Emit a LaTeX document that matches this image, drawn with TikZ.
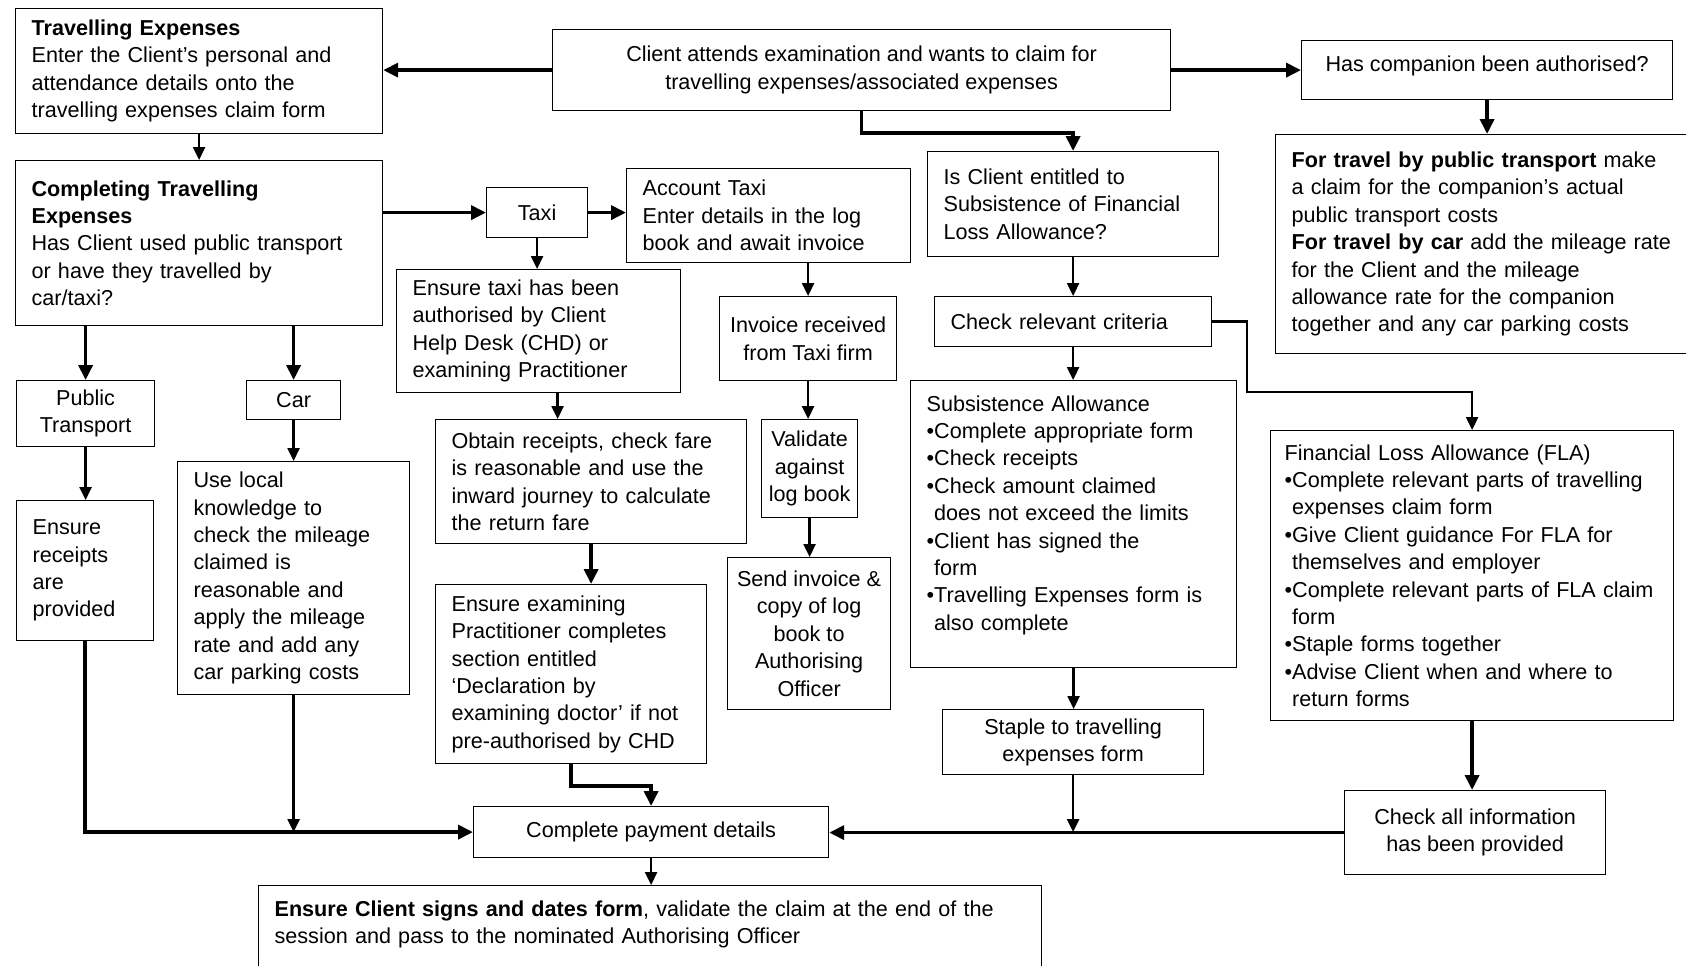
\documentclass[tikz,border=0pt]{standalone}
\usepackage{fontspec}
\setmainfont{Liberation Sans}
\usetikzlibrary{arrows.meta}
\definecolor{ink}{HTML}{000000}
\tikzset{
  basebox/.style={draw=ink,line width=0.6pt,anchor=north west,inner ysep=2pt,font=\fontsize{10.8}{13.7}\selectfont,text=ink},
  leftbox/.style={basebox,align=left,inner xsep=8pt},
  midbox/.style={basebox,align=center,inner xsep=2pt},
  arrow/.style={-{Triangle[length=6.5pt,width=6pt]},line width=1.2pt,draw=ink},
  heavyarrow/.style={-{Triangle[length=7.5pt,width=7pt]},line width=1.8pt,draw=ink}
}
\newcommand{\bulind}{\hphantom{•}}

\begin{document}
\begin{tikzpicture}[x=0.5pt,y=-0.5pt]
        \useasboundingbox (0,0) rectangle (1686,965);

        \node[leftbox,text width=167.5pt,minimum height=62.5pt] (te) at (15,8) {\textbf{Travelling Expenses}\\Enter the Client’s personal and\\attendance details onto the\\travelling expenses claim form};
        \node[midbox,minimum width=309pt,minimum height=40.5pt] (client) at (552,29) {Client attends examination and wants to claim for\\travelling expenses/associated expenses};
        \node[midbox,minimum width=185.5pt,minimum height=29.5pt,text depth=6.5pt] (comp) at (1301,40) {Has companion been authorised?};
        \node[leftbox,text width=197pt,minimum height=109.5pt] (fortr) at (1275,134) {\textbf{For travel by public transport} make\\a claim for the companion’s actual\\public transport costs\\\textbf{For travel by car} add the mileage rate\\for the Client and the mileage\\allowance rate for the companion\\together and any car parking costs};

        \node[leftbox,text width=167.5pt,minimum height=82.5pt] (cte) at (15,160) {\textbf{Completing Travelling}\\\textbf{Expenses}\\Has Client used public transport\\or have they travelled by\\car/taxi?};
        \node[midbox,minimum width=50.5pt,minimum height=25pt] (taxi) at (486,187) {Taxi};
        \node[leftbox,text width=126pt,minimum height=47pt] (acct) at (626,168) {Account Taxi\\Enter details in the log\\book and await invoice};
        \node[leftbox,text width=129.5pt,minimum height=52.5pt] (isc) at (927,151) {Is Client entitled to\\Subsistence of Financial\\Loss Allowance?};

        \node[leftbox,text width=126pt,minimum height=61.5pt] (enst) at (396,269) {Ensure taxi has been\\authorised by Client\\Help Desk (CHD) or\\examining Practitioner};
        \node[midbox,minimum width=88.5pt,minimum height=42pt] (inv) at (719,296) {Invoice received\\from Taxi firm};
        \node[leftbox,text width=122.5pt,minimum height=25pt] (crit) at (934,296) {Check relevant criteria};

        \node[midbox,minimum width=69pt,minimum height=33pt] (pub) at (16,380) {Public\\Transport};
        \node[midbox,minimum width=47pt,minimum height=19.5pt] (car) at (246,380) {Car};
        \node[leftbox,text width=147pt,minimum height=143.5pt] (subs) at (910,380) {Subsistence Allowance\\•Complete appropriate form\\•Check receipts\\•Check amount claimed\\\bulind does not exceed the limits\\•Client has signed the\\\bulind form\\•Travelling Expenses form is\\\bulind also complete\\[-2.5pt]\mbox{}};
        \node[leftbox,text width=139.5pt,minimum height=62pt] (obt) at (435,419) {Obtain receipts, check fare\\is reasonable and use the\\inward journey to calculate\\the return fare};
        \node[midbox,minimum width=48pt,minimum height=49pt] (val) at (761,419) {Validate\\against\\log book};
        \node[leftbox,inner xsep=7pt,text width=187.5pt,minimum height=145pt] (fla) at (1270,430) {Financial Loss Allowance (FLA)\\•Complete relevant parts of travelling\\\bulind expenses claim form\\•Give Client guidance For FLA for\\\bulind themselves and employer\\•Complete relevant parts of FLA claim\\\bulind form\\•Staple forms together\\•Advise Client when and where to\\\bulind return forms};

        \node[leftbox,text width=52.5pt,minimum height=70pt] (ensr) at (16,500) {Ensure\\receipts\\are\\provided};
        \node[leftbox,text width=100pt,minimum height=116.5pt] (usel) at (177,461) {Use local\\knowledge to\\check the mileage\\claimed is\\reasonable and\\apply the mileage\\rate and add any\\car parking costs};
        \node[leftbox,text width=119.5pt,minimum height=89.5pt] (ense) at (435,584) {Ensure examining\\Practitioner completes\\section entitled\\‘Declaration by\\examining doctor’ if not\\pre-authorised by CHD};
        \node[midbox,minimum width=81.5pt,minimum height=76pt] (send) at (727,557) {Send invoice \&\\copy of log\\book to\\Authorising\\Officer};
        \node[midbox,minimum width=130.5pt,minimum height=32.5pt] (stap) at (942,709) {Staple to travelling\\expenses form};
        \node[midbox,minimum width=130.5pt,minimum height=42pt] (chk) at (1344,790) {Check all information\\has been provided};
        \node[midbox,minimum width=177.5pt,minimum height=25.5pt] (pay) at (473,806) {Complete payment details};
        \node[leftbox,text width=375.5pt,minimum height=45pt] (sign) at (258,885) {\textbf{Ensure Client signs and dates form}, validate the claim at the end of the\\session and pass to the nominated Authorising Officer\\[-5.4pt]\mbox{}};

        \draw[heavyarrow] (client.west) -- (client.west -| te.east);
        \draw[heavyarrow] (client.east) -- (client.east -| comp.west);
        \draw[heavyarrow] (client.south) -- ++(0,22) -| (isc.north);
        \draw[heavyarrow] (comp.south) -- (comp.south |- fortr.north);
        \draw[arrow] (te.south) -- (te.south |- cte.north);
        \draw[heavyarrow] (taxi.west -| cte.east) -- (taxi.west);
        \draw[heavyarrow] (taxi.east) -- (taxi.east -| acct.west);
        \draw[arrow] (taxi.south) -- (taxi.south |- enst.north);
        \draw[arrow] (inv.north |- acct.south) -- (inv.north);
        \draw[arrow] (isc.south) -- (isc.south |- crit.north);
        \coordinate (critbend) at (1247,392);
        \draw[arrow] (crit.east) -| (critbend) -| (fla.north);
        \draw[arrow] (crit.south) -- (crit.south |- subs.north);
        \draw[heavyarrow] (pub.north |- cte.south) -- (pub.north);
        \draw[heavyarrow] (car.north |- cte.south) -- (car.north);
        \draw[arrow] (pub.south) -- (pub.south |- ensr.north);
        \draw[arrow] (car.south) -- (car.south |- usel.north);
        \coordinate (enstout) at ([xshift=9.5pt]enst.south);
        \draw[arrow] (enstout) -- (enstout |- obt.north);
        \draw[arrow] (inv.south) -- (inv.south |- val.north);
        \draw[heavyarrow] (obt.south) -- (obt.south |- ense.north);
        \draw[arrow] (val.south) -- (val.south |- send.north);
        \draw[arrow] (subs.south) -- (subs.south |- stap.north);
        \draw[heavyarrow] (fla.south) -- (fla.south |- chk.north);
        \draw[heavyarrow] (ense.south) -- ++(0,22) -| (pay.north);
        \draw[heavyarrow] (ensr.south) |- (pay.west);
        \draw[arrow] (usel.south) -- (usel.south |- pay.west);
        \draw[heavyarrow] (chk.west) -- (chk.west -| pay.east);
        \draw[arrow] (stap.south) -- (stap.south |- pay.east);
        \draw[arrow] (pay.south) -- (pay.south |- sign.north);
      \end{tikzpicture}
\end{document}
